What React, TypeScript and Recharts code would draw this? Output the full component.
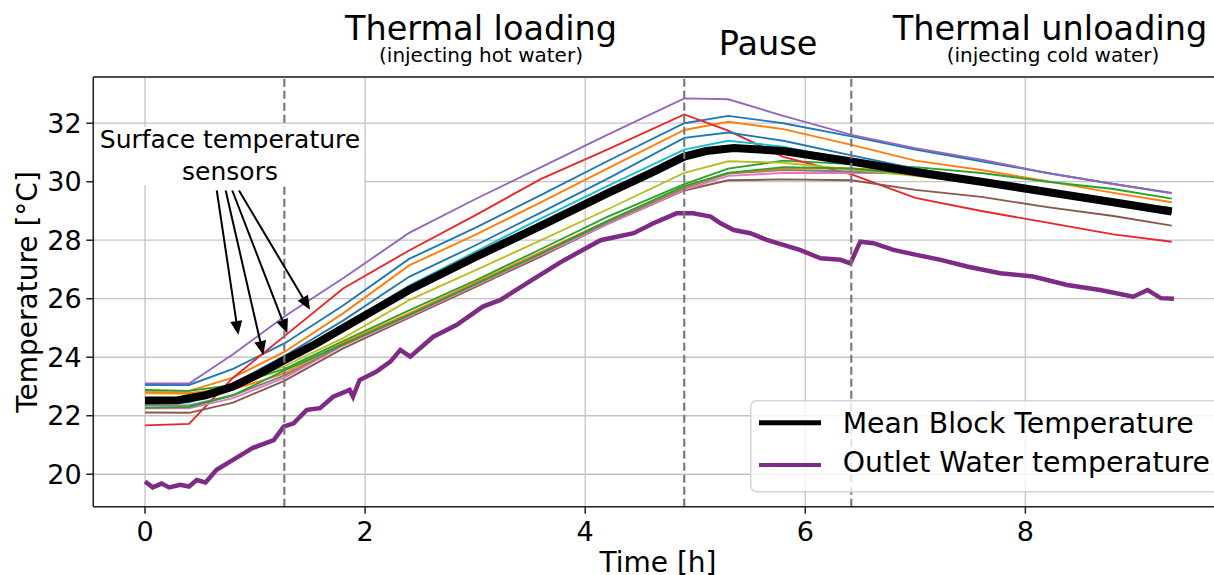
import React from "react"
import {
  CartesianGrid,
  Legend,
  Line,
  LineChart,
  ReferenceLine,
  XAxis,
  YAxis,
} from "recharts"

const FONT = "'DejaVu Sans', Verdana, sans-serif"

// sampling times [h] used for the surface sensors
const sensorTimes = [0, 0.4, 0.8, 1.27, 1.8, 2.4, 3.0, 3.6, 4.2, 4.9, 5.3, 5.8, 6.42, 7.0, 7.6, 8.2, 8.8, 9.33]

// surface temperature sensors [°C]
const sensorBlue = [23.05, 23.05, 23.6, 24.48, 25.77, 27.36, 28.42, 29.55, 30.7, 32.0, 32.25, 32.0, 31.55, 31.1, 30.7, 30.3, 29.92, 29.62]
const sensorOrange = [22.85, 22.85, 23.3, 24.19, 25.5, 27.14, 28.18, 29.3, 30.45, 31.77, 32.05, 31.8, 31.26, 30.72, 30.4, 30.02, 29.62, 29.3]
const sensorGreen = [22.88, 22.85, 23.05, 23.6, 24.55, 25.6, 26.62, 27.7, 28.8, 29.92, 30.45, 30.72, 30.6, 30.5, 30.3, 30.0, 29.75, 29.42]
const sensorRed = [21.67, 21.72, 23.3, 24.73, 26.35, 27.65, 28.85, 30.1, 31.1, 32.3, 31.75, 30.85, 30.25, 29.45, 29.0, 28.6, 28.2, 27.95]
const sensorPurple = [23.1, 23.1, 24.1, 25.4, 26.7, 28.25, 29.4, 30.5, 31.6, 32.85, 32.82, 32.25, 31.6, 31.15, 30.75, 30.3, 29.92, 29.6]
const sensorBrown = [22.11, 22.1, 22.45, 23.2, 24.3, 25.35, 26.4, 27.45, 28.55, 29.7, 30.05, 30.08, 30.05, 29.72, 29.48, 29.13, 28.83, 28.5]
const sensorPink = [22.25, 22.25, 22.6, 23.3, 24.4, 25.4, 26.45, 27.5, 28.55, 29.72, 30.2, 30.3, 30.3, 30.3, 29.95, 29.6, 29.25, 28.95]
const sensorGray = [22.35, 22.35, 22.7, 23.38, 24.42, 25.45, 26.5, 27.55, 28.6, 29.78, 30.28, 30.4, 30.35, 30.25, 29.95, 29.62, 29.28, 28.98]
const sensorOlive = [22.77, 22.75, 23.0, 23.7, 24.65, 25.95, 26.97, 28.0, 29.05, 30.3, 30.7, 30.65, 30.42, 30.2, 29.92, 29.62, 29.3, 29.05]
const sensorCyan = [22.43, 22.45, 22.95, 23.8, 25.05, 26.45, 27.6, 28.75, 29.85, 31.1, 31.4, 31.2, 30.72, 30.3, 29.95, 29.6, 29.25, 28.93]
const sensorBlue2 = [22.6, 22.6, 23.1, 24.05, 25.25, 26.75, 27.82, 28.95, 30.1, 31.5, 31.68, 31.4, 30.9, 30.45, 30.05, 29.7, 29.35, 29.05]
const sensorOrange2 = [22.8, 22.78, 22.9, 23.45, 24.5, 25.5, 26.55, 27.6, 28.65, 29.82, 30.3, 30.45, 30.45, 30.35, 30.0, 29.65, 29.3, 29.0]
const sensorGreen2 = [22.27, 22.3, 22.7, 23.55, 24.45, 25.45, 26.5, 27.55, 28.65, 29.85, 30.3, 30.5, 30.45, 30.25, 29.95, 29.6, 29.3, 29.1]

// mean block temperature
const meanTimes = [0, 0.3, 0.55, 0.8, 1.05, 1.27, 1.55, 1.8, 2.4, 3.0, 3.6, 4.2, 4.6, 4.9, 5.1, 5.35, 5.8, 6.42, 7.0, 7.6, 8.2, 8.8, 9.33]
const meanValues = [22.52, 22.53, 22.7, 23.0, 23.45, 23.91, 24.45, 25.0, 26.3, 27.42, 28.5, 29.6, 30.3, 30.86, 31.05, 31.15, 31.05, 30.69, 30.33, 30.0, 29.65, 29.3, 28.98]

// outlet water temperature
const outletTimes = [0, 0.07, 0.15, 0.22, 0.32, 0.4, 0.47, 0.55, 0.65, 0.8, 0.98, 1.17, 1.26, 1.35, 1.47, 1.59, 1.71, 1.86, 1.89, 1.95, 2.1, 2.23, 2.32, 2.41, 2.62, 2.83, 3.07, 3.23, 3.5, 3.8, 4.14, 4.44, 4.62, 4.83, 4.98, 5.14, 5.23, 5.35, 5.5, 5.65, 5.8, 5.95, 6.14, 6.32, 6.41, 6.5, 6.62, 6.8, 7.01, 7.23, 7.47, 7.77, 8.07, 8.38, 8.68, 8.98, 9.11, 9.23, 9.35]
const outletValues = [19.75, 19.55, 19.68, 19.55, 19.64, 19.58, 19.8, 19.72, 20.15, 20.49, 20.9, 21.17, 21.63, 21.74, 22.2, 22.26, 22.65, 22.88, 22.65, 23.22, 23.5, 23.85, 24.25, 24.02, 24.7, 25.1, 25.73, 25.96, 26.6, 27.3, 28.0, 28.24, 28.58, 28.92, 28.92, 28.81, 28.58, 28.35, 28.24, 28.01, 27.84, 27.67, 27.38, 27.33, 27.21, 27.95, 27.9, 27.67, 27.5, 27.33, 27.1, 26.87, 26.76, 26.47, 26.3, 26.07, 26.3, 26.02, 26.0]

// start of loading, pause and unloading [h]
const phaseMarks = [1.266, 4.9, 6.418]

// annotation arrows: tail and head in (h, °C)
const arrowTails = [[0.652, 29.7], [0.733, 29.7], [0.793, 29.7], [0.854, 29.7]]
const arrowHeads = [[0.848, 24.76], [1.075, 24.08], [1.293, 24.82], [1.499, 25.62]]

const xTicks = [0, 2, 4, 6, 8]
const yTicks = [20, 22, 24, 26, 28, 30, 32]
const xDomain = [-0.47, 9.905]
const yDomain = [18.89, 33.58]

const legendKeys = ["mean", "outlet"]

const sensors = [
  { key: "s1", color: "#1f77b4", values: sensorBlue },
  { key: "s2", color: "#ff7f0e", values: sensorOrange },
  { key: "s3", color: "#2ca02c", values: sensorGreen },
  { key: "s4", color: "#e8262b", values: sensorRed },
  { key: "s5", color: "#9467bd", values: sensorPurple },
  { key: "s6", color: "#8c564b", values: sensorBrown },
  { key: "s7", color: "#e377c2", values: sensorPink },
  { key: "s8", color: "#7f7f7f", values: sensorGray },
  { key: "s9", color: "#bcbd22", values: sensorOlive },
  { key: "s10", color: "#17becf", values: sensorCyan },
  { key: "s11", color: "#1f77b4", values: sensorBlue2 },
  { key: "s12", color: "#ff7f0e", values: sensorOrange2 },
  { key: "s13", color: "#2ca02c", values: sensorGreen2 },
]

// merge every series into one table keyed by time
function buildRows() {
  const rows = new Map<number, any>()
  const put = (key: string, times: number[], values: number[]) => {
    times.forEach((t, i) => {
      if (!rows.has(t)) rows.set(t, { t })
      rows.get(t)[key] = values[i]
    })
  }
  sensors.forEach((s) => put(s.key, sensorTimes, s.values))
  put("mean", meanTimes, meanValues)
  put("outlet", outletTimes, outletValues)
  return Array.from(rows.values()).sort((a, b) => a.t - b.t)
}

const rows = buildRows()

const Arrow = (props: any) => {
  const { x1, y1, x2, y2 } = props
  const len = Math.hypot(x2 - x1, y2 - y1)
  const ux = (x2 - x1) / len
  const uy = (y2 - y1) / len
  const hl = 14
  const hw = 6
  const bx = x2 - ux * hl
  const by = y2 - uy * hl
  return (
    <g>
      <line x1={x1} y1={y1} x2={bx} y2={by} stroke="#000" strokeWidth={2} />
      <polygon
        points={`${x2},${y2} ${bx - uy * hw},${by + ux * hw} ${bx + uy * hw},${by - ux * hw}`}
        fill="#000"
      />
    </g>
  )
}

const LegendBox = ({ payload }: any) => {
  const items = (payload || []).filter((p: any) => legendKeys.includes(p.dataKey))
  return (
    <svg width={480} height={94} style={{ display: "block", overflow: "visible" }}>
      <rect x={0.75} y={0.75} width={520} height={91} rx={6} fill="rgba(255,255,255,0.8)" stroke="#d4d4d4" strokeWidth={1.5} />
      {items.map((p: any, i: number) => (
        <g key={p.value}>
          <line x1={9} x2={71} y1={22.7 + i * 42.3} y2={22.7 + i * 42.3} stroke={p.color} strokeWidth={i === 0 ? 5 : 3.8} />
          <text x={92.7} y={33.3 + i * 38.4} fontSize={28.3} fontFamily={FONT} fill="#000">
            {p.value}
          </text>
        </g>
      ))}
    </svg>
  )
}

const tickStyle = { fontSize: 27, fill: "#000", fontFamily: FONT }

export default function App() {
  return (
    <div
      style={{
        position: "absolute",
        left: 0,
        top: 0,
        width: 1214,
        height: 575,
        overflow: "hidden",
        background: "#fff",
      }}
    >
      <LineChart width={1240} height={575} data={rows} margin={{ top: 77, right: 5, bottom: 0, left: 0 }}>
        <CartesianGrid stroke="#c4c4c4" strokeWidth={1.3} />
        <XAxis
          dataKey="t"
          type="number"
          domain={xDomain}
          ticks={xTicks}
          allowDataOverflow
          height={68.3}
          tick={tickStyle}
          tickSize={7}
          tickMargin={8}
          axisLine={{ stroke: "#222", strokeWidth: 1.5 }}
          tickLine={{ stroke: "#222", strokeWidth: 1.5 }}
        />
        <YAxis
          type="number"
          domain={yDomain}
          ticks={yTicks}
          allowDataOverflow
          width={93.3}
          tick={tickStyle}
          tickSize={7}
          tickMargin={4.6}
          axisLine={{ stroke: "#222", strokeWidth: 1.5 }}
          tickLine={{ stroke: "#222", strokeWidth: 1.5 }}
        />
        <ReferenceLine y={yDomain[1]} stroke="#222" strokeWidth={1.5} ifOverflow="visible" />
        {sensors.map((s) => (
          <Line
            key={s.key}
            dataKey={s.key}
            stroke={s.color}
            strokeWidth={1.9}
            dot={false}
            connectNulls
            legendType="none"
            isAnimationActive={false}
          />
        ))}
        <Line
          dataKey="mean"
          name="Mean Block Temperature"
          stroke="#000"
          strokeWidth={8}
          dot={false}
          connectNulls
          isAnimationActive={false}
        />
        <Line
          dataKey="outlet"
          name="Outlet Water temperature"
          stroke="#7d2b84"
          strokeWidth={4.5}
          dot={false}
          connectNulls
          isAnimationActive={false}
        />
        {phaseMarks.map((x) => (
          <ReferenceLine key={x} x={x} stroke="#7a7a7a" strokeWidth={2.2} strokeDasharray="8 4" />
        ))}
        {arrowTails.map((tail, i) => (
          <ReferenceLine
            key={i}
            segment={[
              { x: tail[0], y: tail[1] },
              { x: arrowHeads[i][0], y: arrowHeads[i][1] },
            ]}
            ifOverflow="visible"
            shape={Arrow}
          />
        ))}
        <Legend
          layout="vertical"
          align="center"
          verticalAlign="middle"
          wrapperStyle={{ left: 750, top: 400, width: 480, height: 94 }}
          content={LegendBox}
        />
      </LineChart>
      <svg
        width={1214}
        height={575}
        style={{ position: "absolute", left: 0, top: 0, pointerEvents: "none" }}
        fontFamily={FONT}
      >
        <text x={481} y={40} fontSize={33.5} textAnchor="middle">Thermal loading</text>
        <text x={481} y={62} fontSize={20} textAnchor="middle">(injecting hot water)</text>
        <text x={768} y={55} fontSize={33.5} textAnchor="middle">Pause</text>
        <text x={1050} y={40} fontSize={33.5} textAnchor="middle">Thermal unloading</text>
        <text x={1053} y={62} fontSize={20} textAnchor="middle">(injecting cold water)</text>
        <rect x={94} y={127} width={270} height={58} fill="#fff" />
        <text x={230} y={148.3} fontSize={25} textAnchor="middle">Surface temperature</text>
        <text x={230} y={180} fontSize={25} textAnchor="middle">sensors</text>
        <text transform="translate(37,292) rotate(-90)" fontSize={28} textAnchor="middle">Temperature [°C]</text>
        <text x={658} y={572} fontSize={28} textAnchor="middle">Time [h]</text>
      </svg>
    </div>
  )
}
